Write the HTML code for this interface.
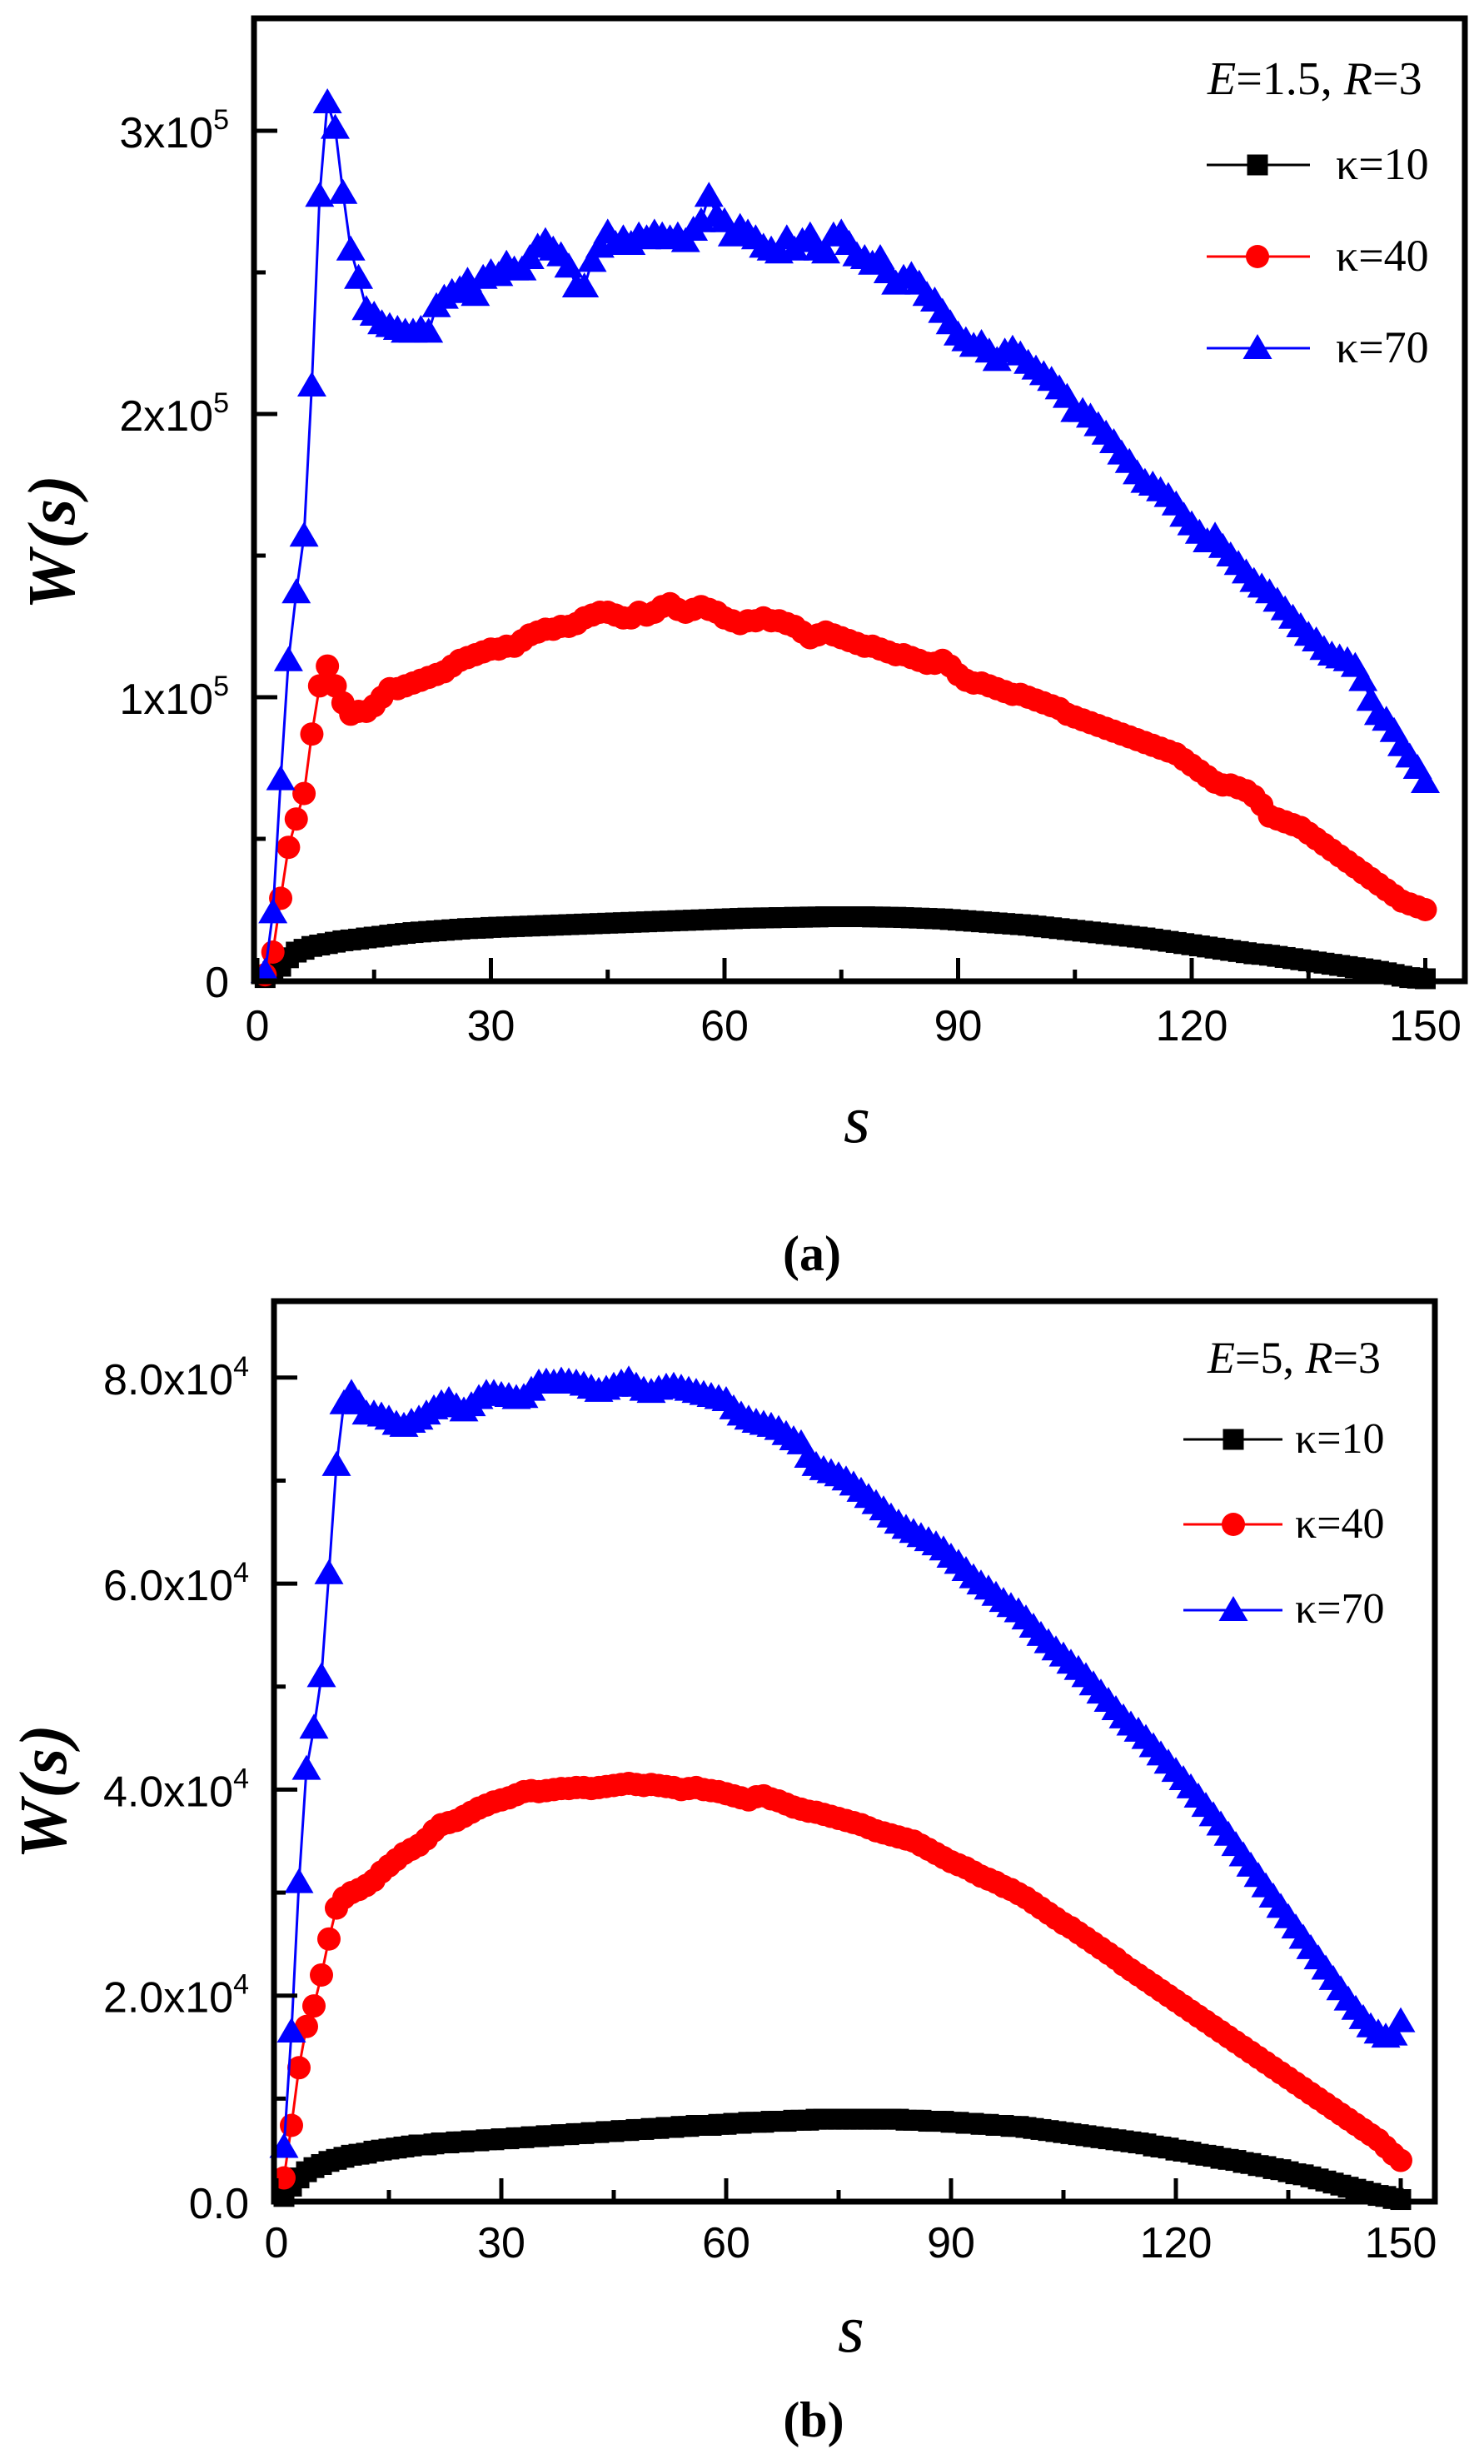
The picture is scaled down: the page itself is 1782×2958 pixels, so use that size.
<!DOCTYPE html>
<html><head><meta charset="utf-8"><title>W(s) vs s</title>
<style>html,body{margin:0;padding:0;background:#fff}svg{display:block}</style></head>
<body>
<svg id="fig" xmlns="http://www.w3.org/2000/svg" width="1782" height="2958" viewBox="0 0 1782 2958">
<rect x="0" y="0" width="1782" height="2958" fill="#fff"/>
</svg>
<script>
// ---- Panel (a) data: W(s) in thousands, s = 1..150
const sValues = Array.from({length:150},(_,i)=>i+1);
const xTickLabels = ["0","30","60","90","120","150"];
const xTickValues = [0,30,60,90,120,150];
const yTicksA = [0,100,200,300];
const yTickLabelsA = [["0",""],["1x10","5"],["2x10","5"],["3x10","5"]];
const yTicksB = [0,20,40,60,80];
const yTickLabelsB = [["0.0",""],["2.0x10","4"],["4.0x10","4"],["6.0x10","4"],["8.0x10","4"]];
const legendLabels = ["κ=10","κ=40","κ=70"];

const k10a = [1,3,5,8,10,11,12,12.5,13,13.5, 14,14.3,14.6,15,15.3,15.6,16,16.3,16.6,16.9,
17.1,17.3,17.5,17.7,17.9,18.1,18.3,18.4,18.5,18.7, 18.8,18.9,19,19.1,19.2,19.3,19.4,19.5,19.6,19.7,
19.8,19.9,20,20.1,20.2,20.3,20.4,20.5,20.6,20.7, 20.8,20.9,21,21.1,21.2,21.3,21.4,21.5,21.6,21.7,
21.8,21.9,22,22,22.1,22.1,22.2,22.2,22.3,22.3, 22.4,22.4,22.5,22.5,22.5,22.5,22.5,22.5,22.4,22.4,
22.3,22.3,22.2,22.1,22,21.9,21.8,21.7,21.5,21.3, 21.1,20.9,20.7,20.5,20.3,20.1,19.9,19.7,19.5,19.2,
18.9,18.6,18.3,18,17.7,17.4,17.1,16.8,16.5,16.2, 15.9,15.6,15.3,15,14.6,14.2,13.8,13.4,13,12.6,
12.2,11.8,11.4,11,10.6,10.2,9.8,9.4,9.2,8.9, 8.5,8.1,7.7,7.3,6.9,6.5,6.1,5.7,5.3,4.9,
4.5,4.1,3.7,3.2,2.7,2.1,1.5,1.0,0.8,0.6];
const k40a = [2,10,29,47,57,66,87,104,111,104, 98,94,95,95,97,100,103,103,104,105,
106,107,108,109,111,113,114,115,116,117, 117,118,118,120,122,123,124,124,125,125,
126,128,129,130,130,129,128,128,130,129, 130,132,133,131,130,131,132,131,130,128,
127,126,127,127,128,127,127,126,125,123, 121,122,123,122,121,120,119,118,118,117,
116,115,115,114,113,112,112,113,111,108, 106,105,105,104,103,102,101,101,100,99,
98,97,96,94,93,92,91,90,89,88, 87,86,85,84,83,82,81,80,78,76,
74,72,70,69,69,68,67,65,62,58, 57,56,55,54,52,50,48,46,44,42,
40,38,36,34,32,30,28,27,26,25];
const k70a = [3,24,71,113,137,157,210,277,310,301, 278,258,248,237,235,232,231,230,229,229,
230,229,238,241,243,244,247,242,248,250, 249,253,251,251,255,259,261,258,256,252,
245,245,254,259,264,260,262,260,263,262, 264,263,262,263,261,265,268,277,270,268,
263,266,264,262,259,258,257,262,258,261, 263,258,257,263,264,260,256,255,253,255,
250,246,248,249,246,242,240,236,232,228, 226,224,225,222,219,222,223,221,218,216,
214,212,209,206,201,201,199,196,193,190, 186,183,179,176,175,173,171,168,164,161,
158,155,157,153,150,147,144,141,139,137, 134,131,128,125,122,120,117,115,114,113,
111,106,99,94,92,88,83,79,75,70];

// ---- Panel (b) data
const k10b = [0.5,1.5,2.3,2.9,3.3,3.6,3.9,4.1,4.3,4.5, 4.6,4.7,4.9,5,5.1,5.2,5.3,5.4,5.5,5.5,
5.6,5.7,5.7,5.8,5.8,5.9,5.9,6,6,6.1, 6.1,6.2,6.2,6.3,6.3,6.4,6.4,6.5,6.5,6.6,
6.6,6.7,6.7,6.8,6.8,6.9,6.9,7,7,7.1, 7.1,7.2,7.2,7.3,7.3,7.4,7.4,7.4,7.5,7.5,
7.6,7.6,7.7,7.7,7.7,7.8,7.8,7.8,7.9,7.9, 7.9,8,8,8,8,8,8,8,8,8,
8,8,8,7.9,7.9,7.9,7.8,7.8,7.8,7.7, 7.7,7.6,7.6,7.5,7.5,7.4,7.4,7.3,7.3,7.2,
7.1,7,6.9,6.8,6.7,6.6,6.5,6.4,6.3,6.2, 6.1,6,5.9,5.8,5.7,5.6,5.4,5.3,5.2,5,
4.9,4.8,4.6,4.5,4.4,4.2,4.1,4,3.8,3.7, 3.5,3.4,3.2,3.1,2.9,2.7,2.6,2.4,2.2,2.0,
1.8,1.6,1.4,1.2,1.0,0.8,0.6,0.5,0.3,0.2];
const k40b = [2.3,7.4,13,17,19,22,25.5,28.5,29.5,30, 30.3,30.7,31.2,32,32.6,33.2,33.8,34.2,34.6,35.2,
36,36.6,36.8,37,37.4,37.8,38.2,38.5,38.8,39, 39.2,39.5,39.8,39.9,39.8,39.9,40,40.1,40.1,40.2,
40.2,40.1,40.2,40.3,40.4,40.5,40.6,40.5,40.4,40.5, 40.4,40.3,40.2,40,40.1,40.2,40,39.9,39.8,39.6,
39.4,39.2,39,39.3,39.4,39.1,38.9,38.6,38.3,38.1, 37.9,37.8,37.6,37.4,37.2,37,36.8,36.6,36.3,36,
35.8,35.6,35.4,35.2,35,34.6,34.2,33.8,33.4,33, 32.7,32.4,32,31.6,31.3,31,30.6,30.3,29.9,29.5,
29,28.5,28,27.5,27,26.6,26.1,25.6,25.1,24.6, 24.1,23.6,23,22.5,22,21.5,21,20.5,20,19.5,
19.0,18.5,18.0,17.5,17.0,16.5,16.0,15.5,15.0,14.5, 14.0,13.5,13.0,12.5,12.0,11.5,11.0,10.5,10.0,9.5,
9.0,8.5,8.0,7.5,7.0,6.5,6.0,5.3,4.6,4];
const k70b = [5.3,16.5,31,42,46,51,61,71.5,77.5,78.5, 77.5,76.5,76.5,76.3,76,75.5,75.3,75.7,76,76.5,
77,77.5,77.8,77.2,76.8,77.3,78,78.5,78.5,78.3, 78.2,78,78.1,78.8,79.5,79.6,79.5,79.7,79.6,79.5,
79.3,79,78.7,78.9,79.2,79.5,79.8,79.2,78.8,78.6, 78.9,79.1,79.2,79,78.8,78.6,78.4,78.2,78,77.8,
77,76.4,76,75.7,75.5,75.3,75,74.5,74,73.6, 72.3,71.5,71.1,70.8,70.5,70.1,69.6,69,68.4,67.8,
67.2,66.5,65.9,65.4,65,64.6,64.2,63.8,63.3,62.6, 62,61.3,60.6,60,59.5,58.9,58.3,57.8,57.3,56.6,
55.8,55,54.3,53.6,53,52.3,51.7,51,50.2,49.4, 48.6,47.8,47,46.3,45.7,45,44.2,43.4,42.6,41.8,
41,40.2,39.3,38.4,37.5,36.6,35.6,34.6,33.6,32.6, 31.6,30.6,29.6,28.6,27.6,26.6,25.6,24.6,23.6,22.6,
21.6,20.6,19.6,18.7,17.8,17,16.4,16,16.2,17.5];

const NS="http://www.w3.org/2000/svg";
const svg=document.getElementById('fig');
function mk(tag,attrs,parent){const e=document.createElementNS(NS,tag);for(const k in attrs)e.setAttribute(k,attrs[k]);(parent||svg).appendChild(e);return e;}
const SANS='"Liberation Sans", sans-serif';
const SERIF='"Liberation Serif", serif';

const panels=[
 {id:'a',L:305,R:1759,T:22,B:1178,x0:309,kx:9.35,y0:1177,ky:3.4,
  yt:yTicksA,ytl:yTickLabelsA,yminor:[50,150,250],labelX:275,
  series:[k10a,k40a,k70a],xlabY:1249,sX:1029,sY:1371,capX:975,capY:1525,cap:"(a)",wY:650,wX:89,
  legTitle:["E","=1.5, ","R","=3"],legTX:1450,legTY:113,legLineX:[1449,1573],legMX:1510,legY:[198,308,418],legTextX:1604,legBase:[215,325,435],legFS:54},
 {id:'b',L:329,R:1723,T:1562,B:2643,x0:332,kx:9.0,y0:2643,ky:12.365,
  yt:yTicksB,ytl:yTickLabelsB,yminor:[10,30,50,70],labelX:299,
  series:[k10b,k40b,k70b],xlabY:2710,sX:1022,sY:2823,capX:977,capY:2925,cap:"(b)",wY:2150,wX:79,
  legTitle:["E","=5, ","R","=3"],legTX:1450,legTY:1648,legLineX:[1421,1540],legMX:1481,legY:[1728,1830,1933],legTextX:1555,legBase:[1744,1846,1948],legFS:52}
];
const colors=['#000','#f00','#00f'];
const kinds=['square','circle','triangle'];

function marker(g,kind,cx,cy,col,name){
  let e;
  if(kind==='square'){e=mk('rect',{x:cx-12.5,y:cy-12.5,width:25,height:25,fill:col},g);}
  else if(kind==='circle'){e=mk('circle',{cx:cx,cy:cy,r:14,fill:col},g);}
  else {e=mk('polygon',{points:(cx)+','+(cy-17)+' '+(cx-17.5)+','+(cy+13)+' '+(cx+17.5)+','+(cy+13),fill:col},g);}
  
  
}

panels.forEach(p=>{
  const X=v=>p.x0+v*p.kx, Y=v=>p.y0-v*p.ky;
  const g=mk('g',{});
  
  
  p.series.forEach((arr,si)=>{
    const sg=mk('g',{},g);
    
    
    const pts=arr.map((v,i)=>X(sValues[i]).toFixed(1)+','+Y(v).toFixed(1)).join(' ');
    const pl=mk('polyline',{points:pts,fill:'none',stroke:colors[si],'stroke-width':3},sg);
    
    
    arr.forEach((v,i)=>marker(sg,kinds[si],X(sValues[i]),Y(v),colors[si],'data-point'));
  });
  const fr=mk('rect',{x:p.L,y:p.T,width:p.R-p.L,height:p.B-p.T,fill:'none',stroke:'#000','stroke-width':7},g);
  
  
  xTickValues.forEach((v,i)=>{
    const t=mk('line',{x1:X(v),x2:X(v),y1:p.B,y2:p.B-28,stroke:'#000','stroke-width':5},g);
    
    
    const tl=mk('text',{x:X(v),y:p.xlabY,'text-anchor':'middle','font-family':SANS,'font-size':52},g);
    tl.textContent=xTickLabels[i];
    
    
    if(i<xTickValues.length-1){
      const m=mk('line',{x1:X(v+15),x2:X(v+15),y1:p.B,y2:p.B-14,stroke:'#000','stroke-width':5},g);
      
      
    }
  });
  p.yt.forEach((v,i)=>{
    const t=mk('line',{x1:p.L,x2:p.L+28,y1:Y(v),y2:Y(v),stroke:'#000','stroke-width':5},g);
    
    
    const tl=mk('text',{x:p.labelX,y:Y(v)+20,'text-anchor':'end','font-family':SANS,'font-size':52},g);
    
    
    const a=mk('tspan',{},tl);a.textContent=p.ytl[i][0];
    if(p.ytl[i][1]){const b=mk('tspan',{'font-size':34,dy:-22},tl);b.textContent=p.ytl[i][1];}
  });
  p.yminor.forEach(v=>{
    const m=mk('line',{x1:p.L,x2:p.L+14,y1:Y(v),y2:Y(v),stroke:'#000','stroke-width':5},g);
    
    
  });
  const xt=mk('text',{x:p.sX,y:p.sY,'text-anchor':'middle','font-family':SERIF,'font-style':'italic','font-size':82},g);
  xt.textContent='s';
  
  
  const yt=mk('text',{x:0,y:0,transform:'translate('+p.wX+','+p.wY+') rotate(-90)','text-anchor':'middle','font-family':SERIF,'font-style':'italic','font-weight':'bold','font-size':80,'letter-spacing':2},g);
  yt.textContent='W(s)';
  
  
  const cap=mk('text',{x:p.capX,y:p.capY,'text-anchor':'middle','font-family':SERIF,'font-weight':'bold','font-size':60},g);
  cap.textContent=p.cap;
  
  
  const lg=mk('g',{},g);
  
  
  const lt=mk('text',{x:p.legTX,y:p.legTY,'font-family':SERIF,'font-size':p.legFS+2},lg);
  
  
  p.legTitle.forEach((s,i)=>{const t=mk('tspan',i%2===0?{'font-style':'italic'}:{},lt);t.textContent=s;});
  legendLabels.forEach((lab,i)=>{
    const e=mk('g',{},lg);
    
    
    mk('line',{x1:p.legLineX[0],x2:p.legLineX[1],y1:p.legY[i],y2:p.legY[i],stroke:colors[i],'stroke-width':3},e);
    marker(e,kinds[i],p.legMX,p.legY[i],colors[i],'legend-marker');
    const t=mk('text',{x:p.legTextX,y:p.legBase[i],'font-family':SERIF,'font-size':p.legFS},e);
    t.textContent=lab;
    
    
  });
});
</script>
</body></html>
